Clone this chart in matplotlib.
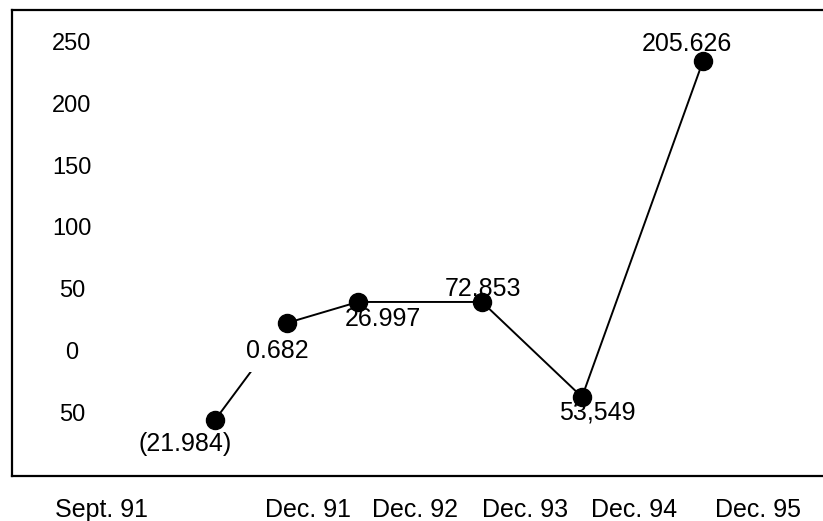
import matplotlib
matplotlib.use("Agg")
import matplotlib.pyplot as plt

plt.rcParams['font.family'] = ['Liberation Sans', 'DejaVu Sans']

# --- data -------------------------------------------------------------
period_pos = [2.03, 2.75, 3.46, 4.70, 5.70, 6.91]        # horizontal position of each reading
values = [-54.2, 24.3, 41.3, 41.3, -35.6, 236.2]          # plotted level
point_labels = ["(21.984)", "0.682", "26.997", "72.853", "53,549", "205.626"]

period_tick_pos = [0.89, 2.96, 4.03, 5.13, 6.22, 7.46]
period_names = ["Sept. 91", "Dec. 91", "Dec. 92", "Dec. 93", "Dec. 94", "Dec. 95"]

y_tick_values = [250, 200, 150, 100, 50, 0, -50]
y_tick_text = ["250", "200", "150", "100", "50", "0", "50"]

# --- layout -----------------------------------------------------------
label_offsets = [(-30, -24), (-10, -28), (25, -17), (1, 13), (15, -15), (-16, 17)]  # pixels
boxed = [False, True, False, False, False, False]

fig = plt.figure(figsize=(8.23, 5.21), dpi=100)
ax = fig.add_axes([12 / 823, 45 / 521, 1 - 12 / 823, 466 / 521])
ax.set_xlim(0, 8.11)
ax.set_ylim(-99.5, 277.5)

for side in ("left", "top", "bottom"):
    ax.spines[side].set_linewidth(1.6)
    ax.spines[side].set_color("black")
ax.spines["right"].set_visible(False)

ax.set_yticks([])
ax.set_xticks(period_tick_pos, period_names)
ax.tick_params(axis="x", length=0, pad=16, labelsize=18)

for v, t in zip(y_tick_values, y_tick_text):
    ax.text(0.60, v, t, ha="center", va="center", fontsize=17)

ax.plot(period_pos, values, color="black", lw=1.4, zorder=2)
ax.plot(period_pos, values, "o", color="black", ms=13, zorder=5)

for x, y, lab, off, bx in zip(period_pos, values, point_labels, label_offsets, boxed):
    kw = {}
    if bx:
        kw["bbox"] = dict(boxstyle="square,pad=0.35", fc="white", ec="none")
    ax.annotate(lab, (x, y), xytext=off, textcoords="offset pixels",
                ha="center", va="center", fontsize=18, zorder=3, **kw)

fig.savefig("out.png", dpi=100)
